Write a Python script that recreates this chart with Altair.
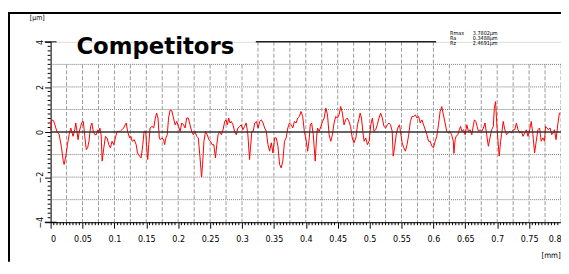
import altair as alt
import pandas as pd

# ---- profile data (mm, um) ----
MM = [0.0000, 0.0016, 0.0047, 0.0067, 0.0098, 0.0135, 0.0171, 0.0197, 0.0212, 0.0238,
      0.0264, 0.0290, 0.0316, 0.0331, 0.0352, 0.0378, 0.0394, 0.0409, 0.0430, 0.0450,
      0.0471, 0.0492, 0.0513, 0.0533, 0.0559, 0.0580, 0.0601, 0.0627, 0.0647, 0.0668,
      0.0694, 0.0715, 0.0740, 0.0756, 0.0772, 0.0792, 0.0808, 0.0834, 0.0860, 0.0885,
      0.0911, 0.0937, 0.0963, 0.0989, 0.1015, 0.1041, 0.1067, 0.1093, 0.1118, 0.1144,
      0.1170, 0.1186, 0.1206, 0.1238, 0.1258, 0.1279, 0.1310, 0.1341, 0.1362, 0.1393,
      0.1419, 0.1445, 0.1465, 0.1491, 0.1507, 0.1522, 0.1538, 0.1559,
      0.1590, 0.1616, 0.1641, 0.1662, 0.1683, 0.1704, 0.1719, 0.1745, 0.1771, 0.1787,
      0.1807, 0.1828, 0.1849, 0.1874, 0.1900, 0.1926, 0.1952, 0.1978, 0.2004, 0.2030,
      0.2056, 0.2082, 0.2108, 0.2133, 0.2159, 0.2185, 0.2211, 0.2237, 0.2263, 0.2289,
      0.2315, 0.2340, 0.2366, 0.2382, 0.2403, 0.2429, 0.2455, 0.2481, 0.2506, 0.2532,
      0.2558, 0.2584, 0.2605, 0.2625, 0.2651, 0.2677, 0.2703, 0.2729, 0.2750, 0.2770,
      0.2791, 0.2812, 0.2832, 0.2858, 0.2884, 0.2910, 0.2936, 0.2962, 0.2988, 0.3014,
      0.3040, 0.3066, 0.3092, 0.3118, 0.3133, 0.3154, 0.3174,
      0.3200, 0.3226, 0.3252, 0.3278, 0.3304, 0.3330, 0.3355, 0.3381, 0.3407, 0.3433,
      0.3459, 0.3485, 0.3511, 0.3537, 0.3563, 0.3589, 0.3614, 0.3640, 0.3666, 0.3692,
      0.3718, 0.3744, 0.3770, 0.3796, 0.3822, 0.3848, 0.3873, 0.3899, 0.3925, 0.3951,
      0.3977, 0.4003, 0.4029, 0.4055, 0.4070, 0.4091, 0.4117, 0.4132, 0.4148, 0.4168,
      0.4184, 0.4210, 0.4236, 0.4262, 0.4288, 0.4314, 0.4340, 0.4365, 0.4391, 0.4417,
      0.4443, 0.4469, 0.4495, 0.4521, 0.4547, 0.4573, 0.4599, 0.4624, 0.4650, 0.4676,
      0.4702, 0.4728, 0.4754,
      0.4785, 0.4810, 0.4836, 0.4852, 0.4873, 0.4893, 0.4914, 0.4940, 0.4966, 0.4992,
      0.5018, 0.5044, 0.5069, 0.5095, 0.5121, 0.5147, 0.5173, 0.5199, 0.5225, 0.5251,
      0.5277, 0.5303, 0.5328, 0.5354, 0.5370, 0.5391, 0.5417, 0.5442, 0.5468, 0.5484,
      0.5510, 0.5536, 0.5561, 0.5587, 0.5613, 0.5639, 0.5665, 0.5691, 0.5717, 0.5743,
      0.5769, 0.5794, 0.5820, 0.5846, 0.5872, 0.5898, 0.5924, 0.5950, 0.5976, 0.6002,
      0.6027, 0.6053, 0.6079, 0.6105, 0.6131, 0.6157, 0.6183, 0.6209, 0.6235, 0.6260,
      0.6286, 0.6312, 0.6322, 0.6340, 0.6355,
      0.6384, 0.6405, 0.6426, 0.6446, 0.6472, 0.6498, 0.6524, 0.6550, 0.6576, 0.6602,
      0.6628, 0.6643, 0.6664, 0.6685, 0.6705, 0.6731, 0.6757, 0.6783, 0.6809, 0.6835,
      0.6861, 0.6887, 0.6913, 0.6939, 0.6955, 0.6975, 0.6991, 0.7017, 0.7032, 0.7053,
      0.7068, 0.7094, 0.7120, 0.7146, 0.7172, 0.7198, 0.7224, 0.7250, 0.7275, 0.7301,
      0.7327, 0.7353, 0.7379, 0.7405, 0.7431, 0.7457, 0.7483, 0.7509, 0.7534, 0.7560,
      0.7586, 0.7612, 0.7638, 0.7664, 0.7690, 0.7716, 0.7742, 0.7757, 0.7783, 0.7804,
      0.7829, 0.7855, 0.7876, 0.7897, 0.7923, 0.7949, 0.7975, 0.7990]

UM = [0.10, 0.54, 0.50, 0.32, 0.03, -0.12, -0.70, -1.26, -1.44, -1.07,
      -0.56, -0.12, 0.18, 0.03, -0.19, 0.10, 0.40, 0.10, -0.34, 0.03,
      0.25, 0.44, 0.47, -0.12, -0.78, -0.70, -0.41, 0.25, 0.40, 0.03,
      -0.12, -0.12, 0.10, -0.04, 0.18, -0.12, -1.29, -0.70, -0.19, -0.26,
      -0.56, -0.70, -0.41, -0.56, -0.26, 0.03, 0.03, 0.03, 0.10, 0.18,
      0.32, 0.40, 0.03, -0.26, -0.19, -0.41, -0.34, -0.56, -0.93, -1.07,
      -1.15, -0.56, 0.03, 0.03, -0.70, -1.22, -0.56, 0.18,
      0.25, 0.18, 0.62, 0.84, 0.62, -0.26, -0.34, -0.26, -0.34, -0.56,
      -0.26, -0.12, 0.62, 0.98, 0.94, 0.62, 0.32, 0.47, 0.25, 0.03,
      0.40, 0.32, 0.18, 0.62, 0.62, 0.32, 0.03, -0.12, 0.03, -0.19,
      -0.26, -1.07, -2.00, -1.44, -0.41, 0.03, -0.12, -0.34, -0.41, -0.56,
      -0.56, -1.15, -0.56, -0.12, 0.03, -0.12, 0.10, 0.47, 0.54, 0.32,
      0.62, 0.40, 0.47, 0.32, 0.03, -0.12, 0.18, 0.25, 0.32, 0.10,
      0.25, 0.40, -0.12, -1.22, -0.70, 0.03, 0.03,
      0.40, 0.47, 0.18, 0.47, 0.54, 0.40, 0.18, 0.03, -0.56, -0.85,
      -0.48, -0.93, -0.26, -0.26, -0.63, -1.44, -1.59, -1.29, -0.41, -0.26,
      0.18, 0.40, 0.32, 0.18, 0.47, 0.40, 0.62, 0.69, 0.91, 0.69,
      0.03, -0.34, -0.85, -0.26, 0.32, 0.40, -0.12, -0.70, -1.29, -0.26,
      0.18, 0.03, 0.25, 0.47, 0.62, 1.06, 0.76, -0.12, -0.41, -0.12,
      0.40, 0.69, 0.62, 0.76, 1.13, 0.84, 0.32, 0.54, 0.62, 0.47,
      0.25, -0.26, -0.48,
      -0.26, 0.32, 0.62, 0.84, 0.62, 0.03, -0.41, -0.26, -0.56, -0.41,
      0.32, 0.62, 0.03, 0.10, 0.32, 0.62, 0.84, 0.62, 0.25, 0.18,
      0.32, 0.40, 0.32, 0.03, -1.07, -0.70, -0.12, 0.18, 0.32, 0.03,
      -0.48, -0.70, -0.85, -0.56, -0.12, 0.47, 0.69, 0.69, 0.76, 0.62,
      0.69, 0.40, 0.54, 0.32, 0.10, -0.12, -0.41, -0.41, -0.63, -0.70,
      -0.41, -0.19, 0.32, 0.91, 1.13, 0.76, 0.40, 0.03, -0.04, 0.03,
      -0.12, -0.41, -0.95, -0.34, -0.19,
      -0.12, 0.10, 0.25, 0.03, 0.10, -0.12, 0.32, 0.03, 0.10, -0.12,
      0.32, 0.54, 0.47, 0.25, 0.03, 0.10, 0.03, 0.18, 0.40, -0.12,
      -0.63, -0.26, 0.10, 0.25, 1.06, 1.35, 0.47, -0.56, -1.07, -0.41,
      -0.12, 0.47, 0.10, -0.12, -0.04, 0.03, -0.04, 0.10, 0.10, 0.40,
      0.10, -0.04, 0.03, -0.19, -0.04, 0.10, -0.19, 0.10, 0.47, -0.12,
      -0.93, -0.41, 0.10, 0.18, -0.41, -0.26, -0.41, 0.25, 0.18, 0.10,
      0.18, -0.12, -0.04, 0.10, -0.34, 0.32, 0.84, 0.84]

# ---- axis / grid values ----
X_LABELS = [0, 0.05, 0.1, 0.15, 0.2, 0.25, 0.3, 0.35, 0.4, 0.45, 0.5, 0.55,
            0.6, 0.65, 0.7, 0.75, 0.8]
Y_LABELS = [-4, -2, 0, 2, 4]
H_GRID = [-3, -2, -1, 1, 2, 3]
V_GRID = [round(0.025 * i, 3) for i in range(1, 33)]
X_MINOR = [round(0.005 * i, 3) for i in range(0, 161) if i % 10 != 0]
Y_MINOR = [round(-4 + 0.2 * i, 1) for i in range(0, 41) if i % 10 != 0]
TOP_SEG = [0.3216, 0.6043]

STAT_NAMES = ["Rmax", "Ra", "Rz"]
STAT_VALUES = ["3.7802", "0.3488", "2.4691"]
STAT_UNIT = "μm"
TITLE = "Competitors"
Y_UNIT = "[μm]"
X_UNIT = "[mm]"

NARROW = "Liberation Sans Narrow, DejaVu Sans Condensed, Arial Narrow, sans-serif"
W, H = 515, 182
PAD_B = 40

xs = alt.Scale(domain=[0, 0.8], nice=False, zero=False)
ys = alt.Scale(domain=[-4, 4], nice=False, zero=False)

xaxis = alt.Axis(values=X_LABELS, format=".2~f", tickSize=6, labelPadding=6,
                 labelFont=NARROW, labelFontSize=9, labelColor="black",
                 domainColor="black", tickColor="black", grid=False, title=None,
                 labelFlush=True, domainWidth=1, tickWidth=1)
yaxis = alt.Axis(values=Y_LABELS, format="d", tickSize=6, labelAngle=270,
                 labelAlign="center", labelBaseline="bottom", labelPadding=0,
                 labelFont=NARROW, labelFontSize=9, labelColor="black",
                 domainColor="black", tickColor="black", grid=False, title=None,
                 labelFlush=False, domainWidth=1, tickWidth=1)


def X(f):
    return alt.X(f, type="quantitative", scale=xs, axis=xaxis)


def Y(f):
    return alt.Y(f, type="quantitative", scale=ys, axis=yaxis)


profile = pd.DataFrame({"mm": MM, "um": UM})
hgrid = pd.DataFrame({"v": H_GRID})
vgrid = pd.DataFrame({"g": V_GRID,
                      "top": [4 if TOP_SEG[0] <= g <= TOP_SEG[1] else 3 for g in V_GRID],
                      "bot": [-4] * len(V_GRID)})
xminor = pd.DataFrame({"t": X_MINOR})
yminor = pd.DataFrame({"t": Y_MINOR})
cross = pd.DataFrame({"t": [-4, 4]})
zero = pd.DataFrame({"v": [0]})
seg = pd.DataFrame({"a": [TOP_SEG[0]], "b": [TOP_SEG[1]], "v": [4]})

layers = []
layers.append(alt.Chart(hgrid).mark_rule(color="#777777", strokeDash=[1, 1], strokeWidth=1)
              .encode(y=Y("v"), x=alt.value(0), x2=alt.value(W)))
layers.append(alt.Chart(vgrid).mark_rule(color="#9a9a9a", strokeDash=[4, 2], strokeWidth=1)
              .encode(x=X("g"), y=Y("top"), y2=alt.Y2("bot")))
layers.append(alt.Chart(seg).mark_rule(color="#222222", strokeWidth=1.5)
              .encode(x=X("a"), x2=alt.X2("b"), y=Y("v")))
layers.append(alt.Chart(xminor).mark_rule(color="black", strokeWidth=1)
              .encode(x=X("t"), y=alt.value(H), y2=alt.value(H + 3)))
layers.append(alt.Chart(yminor).mark_rule(color="black", strokeWidth=1)
              .encode(y=Y("t"), x=alt.value(-3), x2=alt.value(0)))
layers.append(alt.Chart(cross).mark_rule(color="black", strokeWidth=1)
              .encode(y=Y("t"), x=alt.value(-6), x2=alt.value(6)))
layers.append(alt.Chart(profile).mark_line(color="#ff0000", strokeWidth=1)
              .encode(x=X("mm"), y=Y("um")))
layers.append(alt.Chart(zero).mark_rule(color="#333333", strokeWidth=1.6)
              .encode(y=Y("v"), x=alt.value(0), x2=alt.value(W)))

# texts
layers.append(alt.Chart(zero).mark_text(text=TITLE, font="DejaVu Sans", fontWeight="bold",
                                        fontSize=23, align="left", baseline="alphabetic",
                                        color="black")
              .encode(x=alt.value(26), y=alt.value(12)))
layers.append(alt.Chart(zero).mark_text(text=Y_UNIT, font=NARROW, fontSize=7,
                                        align="center", baseline="middle", color="black")
              .encode(x=alt.value(-13.5), y=alt.value(-24.5)))
layers.append(alt.Chart(zero).mark_text(text=X_UNIT, font=NARROW, fontSize=8,
                                        align="center", baseline="middle", color="black")
              .encode(x=alt.value(505), y=alt.value(216)))
for i, (n, v) in enumerate(zip(STAT_NAMES, STAT_VALUES)):
    yy = -9.3 + 5 * i
    for txt, xx in ((n, 403), (v, 426), (STAT_UNIT, 443)):
        layers.append(alt.Chart(zero).mark_text(text=txt, font=NARROW, fontSize=5.5,
                                                align="left", baseline="middle",
                                                color="black")
                      .encode(x=alt.value(xx), y=alt.value(yy)))

# frame
layers.append(alt.Chart(zero).mark_rule(color="black", strokeWidth=2)
              .encode(x=alt.value(-43), x2=alt.value(515), y=alt.value(-29)))
layers.append(alt.Chart(zero).mark_rule(color="black", strokeWidth=2)
              .encode(x=alt.value(-42), y=alt.value(-30), y2=alt.value(H + PAD_B)))

chart = alt.layer(*layers).properties(
    width=W, height=H,
    autosize=alt.AutoSizeParams(type="none"),
    padding={"left": 43, "top": 33, "right": 0, "bottom": PAD_B},
).configure_view(stroke=None).configure(background="white")

chart.save("out.html", embed_options={"renderer": "svg", "actions": False})
